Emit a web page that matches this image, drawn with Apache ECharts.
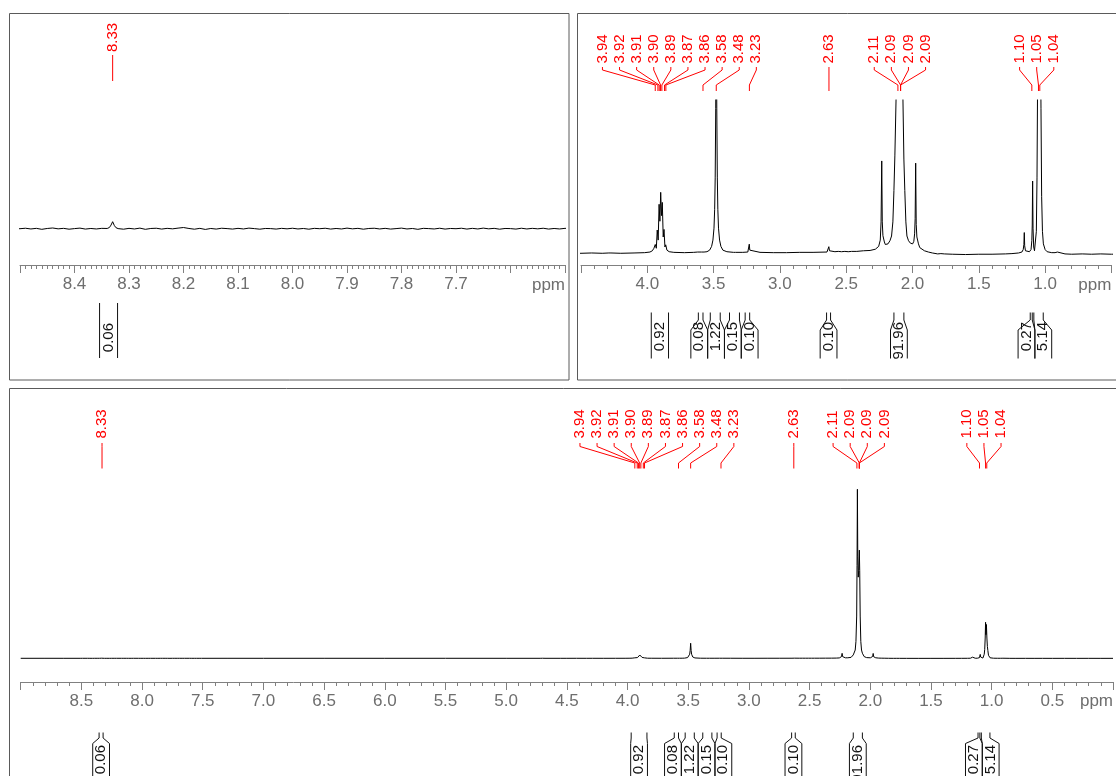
<!DOCTYPE html>
<html>
<head>
<meta charset="utf-8">
<title>1H NMR</title>
<script src="https://cdn.jsdelivr.net/npm/echarts@6/dist/echarts.min.js"></script>
<style>
  html, body { margin: 0; padding: 0; background: #ffffff; }
  #chart { width: 1116px; height: 776px; }
</style>
</head>
<body>
<div id="chart"></div>
<script>
// ---- spectrum: [chemical shift (ppm), intensity (main resonance = 100)] ----
const edgeTrace = [[9.00, 0.000], [8.80, 0.002], [8.65, -0.002], [8.51, 0.000]];

const aromaticTrace = [
  [8.500, 0.000], [8.490, 0.008], [8.480, -0.004], [8.470, 0.006], [8.460, -0.010], [8.450, 0.004],
  [8.440, 0.012], [8.430, -0.002], [8.420, 0.006], [8.410, -0.008], [8.400, 0.002], [8.390, 0.010],
  [8.380, -0.006], [8.370, 0.004], [8.360, -0.004], [8.350, 0.006], [8.340, 0.004], [8.336, 0.020],
  [8.333, 0.060], [8.330, 0.117], [8.327, 0.055], [8.324, 0.018], [8.320, 0.002], [8.310, -0.008],
  [8.300, 0.006], [8.290, -0.004], [8.280, 0.010], [8.270, -0.010], [8.260, 0.004], [8.250, 0.008],
  [8.240, -0.006], [8.230, 0.006], [8.220, -0.002], [8.210, 0.010], [8.200, 0.020], [8.190, 0.004],
  [8.180, -0.008], [8.170, 0.006], [8.160, -0.012], [8.150, 0.004], [8.140, -0.006], [8.130, 0.008],
  [8.120, 0.002], [8.110, -0.006], [8.100, 0.006], [8.090, -0.004], [8.080, 0.010], [8.070, 0.002],
  [8.060, -0.008], [8.050, 0.004], [8.040, 0.002], [8.030, -0.006], [8.020, 0.006], [8.010, -0.002],
  [8.000, 0.008], [7.990, -0.004], [7.980, 0.004], [7.970, -0.008], [7.960, 0.006], [7.950, 0.000],
  [7.940, 0.008], [7.930, -0.006], [7.920, 0.004], [7.910, -0.004], [7.900, 0.010], [7.890, -0.002],
  [7.880, 0.006], [7.870, -0.008], [7.860, 0.004], [7.850, 0.008], [7.840, -0.004], [7.830, 0.006],
  [7.820, -0.006], [7.810, 0.002], [7.800, 0.010], [7.790, -0.004], [7.780, 0.004], [7.770, -0.010],
  [7.760, 0.006], [7.750, 0.002], [7.740, -0.004], [7.730, 0.008], [7.720, -0.006], [7.710, 0.004],
  [7.700, 0.000], [7.690, 0.008], [7.680, -0.006], [7.670, 0.006], [7.660, -0.004], [7.650, 0.010],
  [7.640, -0.002], [7.630, 0.006], [7.620, -0.008], [7.610, 0.004], [7.600, 0.002], [7.590, -0.006],
  [7.580, 0.008], [7.570, -0.004], [7.560, 0.006], [7.550, -0.002], [7.540, 0.008], [7.530, -0.006],
  [7.520, 0.004], [7.510, -0.004], [7.500, 0.006]
];

const midTrace = [
  [7.30, 0.002], [7.00, 0.000], [6.50, 0.002], [6.00, 0.000], [5.50, 0.002], [5.00, 0.000],
  [4.72, 0.000], [4.70, 0.030], [4.68, 0.000], [4.55, 0.000]
];

const aliphaticTrace = [
  [4.50, 0.00], [4.42, 0.01], [4.34, 0.00], [4.29, 0.01], [4.282, 0.07], [4.274, 0.01], [4.20, 0.00],
  [4.10, 0.01], [4.02, 0.02], [3.98, 0.04], [3.962, 0.08], [3.950, 0.16],
  [3.940, 0.28], [3.932, 0.16], [3.925, 0.74], [3.918, 0.42], [3.911, 1.56], [3.905, 1.02],
  [3.899, 1.94], [3.893, 1.20], [3.887, 1.62], [3.880, 0.52], [3.874, 0.76], [3.867, 0.20],
  [3.861, 0.27], [3.852, 0.10], [3.835, 0.05], [3.80, 0.03], [3.72, 0.02], [3.65, 0.03],
  [3.62, 0.04], [3.615, 0.09], [3.608, 0.04], [3.590, 0.04], [3.578, 0.10], [3.572, 0.04], [3.55, 0.05],
  [3.53, 0.10], [3.515, 0.22], [3.505, 0.42], [3.497, 0.80], [3.492, 1.40], [3.488, 2.40],
  [3.484, 4.60], [3.480, 8.90], [3.476, 4.60], [3.472, 2.40], [3.468, 1.40], [3.463, 0.80],
  [3.455, 0.42], [3.445, 0.22], [3.43, 0.10], [3.40, 0.05], [3.35, 0.03], [3.334, 0.03],
  [3.330, 0.08], [3.326, 0.03], [3.28, 0.03], [3.242, 0.04], [3.235, 0.10], [3.231, 0.29],
  [3.227, 0.10], [3.220, 0.04], [3.15, 0.03], [3.05, 0.02], [2.95, 0.02], [2.85, 0.03], [2.75, 0.03],
  [2.645, 0.04], [2.636, 0.08], [2.631, 0.21], [2.626, 0.08], [2.617, 0.05], [2.585, 0.05],
  [2.56, 0.06], [2.535, 0.05], [2.51, 0.06], [2.485, 0.05], [2.46, 0.06], [2.42, 0.06], [2.37, 0.08],
  [2.32, 0.09], [2.28, 0.13], [2.255, 0.22], [2.243, 0.42], [2.237, 1.00], [2.232, 2.94],
  [2.228, 1.00], [2.223, 0.56], [2.218, 0.53], [2.212, 0.36], [2.205, 0.28], [2.198, 0.26],
  [2.185, 0.30], [2.170, 0.40], [2.158, 0.55], [2.148, 1.00], [2.140, 2.00], [2.133, 3.10],
  [2.124, 4.90], [2.118, 10.0], [2.112, 25.0], [2.109, 55.0], [2.106, 100.0], [2.103, 60.0],
  [2.099, 48.0], [2.095, 52.0], [2.090, 64.0], [2.087, 52.0], [2.083, 25.0], [2.078, 10.0],
  [2.072, 4.90], [2.065, 3.00], [2.058, 2.00], [2.050, 1.00], [2.042, 0.55], [2.030, 0.40],
  [2.015, 0.32], [1.999, 0.30], [1.990, 0.38], [1.984, 0.62], [1.980, 1.10], [1.976, 2.87],
  [1.972, 0.92], [1.967, 0.52], [1.962, 0.48], [1.955, 0.30], [1.945, 0.18], [1.930, 0.12],
  [1.910, 0.08], [1.880, 0.04], [1.850, 0.01], [1.810, -0.02], [1.796, 0.03], [1.786, -0.01],
  [1.76, -0.02], [1.70, -0.03], [1.60, -0.04], [1.50, -0.03], [1.40, -0.03], [1.30, -0.02],
  [1.25, -0.01], [1.20, 0.01], [1.175, 0.04], [1.165, 0.12], [1.160, 0.28], [1.157, 0.66],
  [1.154, 0.24], [1.148, 0.08], [1.135, 0.04], [1.118, 0.05], [1.106, 0.12], [1.100, 0.40],
  [1.097, 0.90], [1.094, 2.30], [1.091, 0.80], [1.086, 0.20], [1.080, 0.08], [1.072, 0.14],
  [1.066, 0.70], [1.061, 2.40], [1.057, 5.20], [1.053, 12.0], [1.050, 21.3], [1.047, 14.0],
  [1.043, 20.0], [1.039, 12.0], [1.035, 7.00], [1.031, 4.60], [1.026, 1.80], [1.020, 0.70],
  [1.013, 0.30], [1.000, 0.12], [0.985, 0.05], [0.95, 0.02], [0.925, 0.02], [0.916, 0.05],
  [0.912, 0.08], [0.907, 0.04], [0.895, 0.00], [0.85, -0.02], [0.80, -0.03], [0.72, -0.02],
  [0.65, -0.03], [0.58, -0.02], [0.50, -0.03]
];

const highFieldTrace = [[0.40, -0.02], [0.30, -0.03], [0.20, -0.02], [0.10, -0.03], [0.00, -0.02]];

// ---- peak picking (ppm, as printed) ----
const aromaticPeakLabels = ['8.33'];
const aliphaticPeakLabels = [
  '3.94', '3.92', '3.91', '3.90', '3.89', '3.87', '3.86', '3.58', '3.48', '3.23',
  '2.63', '2.11', '2.09', '2.09', '2.09', '1.10', '1.05', '1.04'
];

// ---- integration regions (ppm) and normalised areas ----
const integralFrom   = [8.354, 3.970, 3.615, 3.525, 3.380, 3.262, 2.648, 2.140, 1.112, 1.085];
const integralTo     = [8.321, 3.840, 3.580, 3.450, 3.305, 3.228, 2.618, 2.065, 1.097, 1.014];
const integralValues = ['0.06', '0.92', '0.08', '1.22', '0.15', '0.10', '0.10', '91.96', '0.27', '5.14'];

// ---- axis tick labels ----
const aromaticTickLabels = ['8.4', '8.3', '8.2', '8.1', '8.0', '7.9', '7.8', '7.7'];
const aliphaticTickLabels = ['4.0', '3.5', '3.0', '2.5', '2.0', '1.5', '1.0'];
const overviewTickLabels = ['8.5', '8.0', '7.5', '7.0', '6.5', '6.0', '5.5', '5.0', '4.5',
  '4.0', '3.5', '3.0', '2.5', '2.0', '1.5', '1.0', '0.5'];

// ---------------------------------------------------------------------------
const spectrum = edgeTrace.concat(aromaticTrace, midTrace, aliphaticTrace, highFieldTrace);

const FONT = '"Liberation Sans", Arial, Helvetica, sans-serif';
const RED = '#ff0000';
const AXIS_GREY = '#808080';
const LABEL_GREY = '#6e6e6e';
const LABEL_STEP = 17.1;   // spacing of the multiplet labels
const BOX_MIN = 16.8;      // minimum width of an integral label box

const panels = [
  {
    xMin: 7.5, xMax: 8.5, interval: 0.1, minorSplit: 10,
    grid: { left: 20, top: 100, width: 545, height: 158 }, yMin: -0.488, yMax: 2.145,
    tickLabels: aromaticTickLabels, peakLabels: aromaticPeakLabels,
    peakGeom: { textBase: 52, y0: 55, y1: 58, y2: 76, y3: 81 },
    intGeom: { top: 303, b1: 310, b2: 318, bottom: 358, textTop: 323 },
    ppmY: 285
  },
  {
    xMin: 0.5, xMax: 4.5, interval: 0.5, minorSplit: 5,
    grid: { left: 581, top: 100, width: 530.4, height: 158 }, yMin: -0.15, yMax: 4.88,
    tickLabels: aliphaticTickLabels, peakLabels: aliphaticPeakLabels,
    peakGeom: { textBase: 63.5, y0: 67, y1: 70, y2: 85, y3: 91 },
    intGeom: { top: 312.5, b1: 320, b2: 330, bottom: 358.5, textTop: 322 },
    ppmY: 285
  },
  {
    xMin: 0, xMax: 9, interval: 0.5, minorSplit: 5,
    grid: { left: 20.7, top: 470, width: 1095.3, height: 205 }, yMin: -9.88, yMax: 111.4,
    tickLabels: overviewTickLabels, peakLabels: aromaticPeakLabels.concat(aliphaticPeakLabels),
    peakGeom: { textBase: 438.5, y0: 443, y1: 446.5, y2: 463, y3: 468.5 },
    intGeom: { top: 732.5, b1: 738, b2: 743.5, bottom: 800, textTop: 745 },
    ppmY: 701.5
  }
];

// Spread overlapping labels: items {c, w} sorted by c; returns the centre of each item.
function spreadRow(items) {
  let groups = items.map((it, i) => ({ members: [i], sumC: it.c, totalW: it.w }));
  const leftOf = g => g.sumC / g.members.length - g.totalW / 2;
  let changed = true;
  while (changed) {
    changed = false;
    for (let i = 0; i < groups.length - 1; i++) {
      const a = groups[i], b = groups[i + 1];
      if (leftOf(a) + a.totalW > leftOf(b) + 0.01) {
        groups.splice(i, 2, {
          members: a.members.concat(b.members),
          sumC: a.sumC + b.sumC,
          totalW: a.totalW + b.totalW
        });
        changed = true;
        break;
      }
    }
  }
  const centres = new Array(items.length);
  groups.forEach(g => {
    let x = leftOf(g);
    g.members.forEach(m => { centres[m] = x + items[m].w / 2; x += items[m].w; });
  });
  return centres;
}

function annotationRenderer(panel) {
  return function (params, api) {
    const xAt = v => api.coord([v, 0])[0];
    const inRange = v => v >= panel.xMin && v <= panel.xMax;
    const children = [];

    // peak labels with connector lines
    const g = panel.peakGeom;
    const peaks = panel.peakLabels
      .filter(t => inRange(parseFloat(t)))
      .map(t => ({ text: t, px: xAt(parseFloat(t)) }))
      .sort((a, b) => a.px - b.px);
    const lx = spreadRow(peaks.map(p => ({ c: p.px, w: LABEL_STEP })));
    peaks.forEach((p, i) => {
      children.push({
        type: 'polyline',
        shape: { points: [[lx[i], g.y0], [lx[i], g.y1], [p.px, g.y2], [p.px, g.y3]] },
        style: { stroke: RED, lineWidth: 1, fill: null }
      });
      children.push({
        type: 'text', x: lx[i], y: g.textBase, rotation: Math.PI / 2,
        style: { text: p.text, fill: RED, font: '15px ' + FONT, align: 'left', verticalAlign: 'middle' }
      });
    });

    // integral brackets
    const ig = panel.intGeom;
    const ints = integralValues
      .map((v, i) => ({ text: v, x1: xAt(integralFrom[i]), x2: xAt(integralTo[i]),
                        mid: (integralFrom[i] + integralTo[i]) / 2 }))
      .filter(it => inRange(it.mid))
      .sort((a, b) => a.x1 - b.x1);
    const bc = spreadRow(ints.map(it => ({ c: (it.x1 + it.x2) / 2, w: Math.max(BOX_MIN, it.x2 - it.x1) })));
    ints.forEach((it, i) => {
      const w = Math.max(BOX_MIN, it.x2 - it.x1);
      const bl = bc[i] - w / 2, br = bc[i] + w / 2;
      children.push({
        type: 'polyline',
        shape: { points: [[it.x1, ig.top], [it.x1, ig.b1], [bl, ig.b2], [bl, ig.bottom]] },
        style: { stroke: '#111', lineWidth: 1, fill: null }
      });
      children.push({
        type: 'polyline',
        shape: { points: [[it.x2, ig.top], [it.x2, ig.b1], [br, ig.b2], [br, ig.bottom]] },
        style: { stroke: '#111', lineWidth: 1, fill: null }
      });
      children.push({
        type: 'text', x: bc[i], y: ig.textTop, rotation: Math.PI / 2,
        style: { text: it.text, fill: '#111', font: '15px ' + FONT, align: 'right', verticalAlign: 'middle' }
      });
    });

    // unit label at the high-field end of the axis
    children.push({
      type: 'text', x: xAt(panel.xMin), y: panel.ppmY,
      style: { text: 'ppm', fill: LABEL_GREY, font: '17px ' + FONT, align: 'right', verticalAlign: 'middle' }
    });

    return { type: 'group', children: children };
  };
}

const option = {
  animation: false,
  backgroundColor: '#ffffff',
  grid: panels.map(p => Object.assign({ containLabel: false }, p.grid)),
  xAxis: panels.map((p, i) => ({
    type: 'value', gridIndex: i, inverse: true,
    min: p.xMin, max: p.xMax, interval: p.interval,
    offset: 7,
    axisLine: { show: true, onZero: false, lineStyle: { color: AXIS_GREY, width: 1 } },
    axisTick: { show: true, length: 8, lineStyle: { color: AXIS_GREY } },
    minorTick: { show: true, splitNumber: p.minorSplit, length: 4, lineStyle: { color: AXIS_GREY } },
    splitLine: { show: false },
    axisLabel: {
      show: true, interval: 0, margin: 11, color: LABEL_GREY, fontSize: 17, fontFamily: FONT,
      showMinLabel: true, showMaxLabel: true,
      formatter: v => (p.tickLabels.indexOf(v.toFixed(1)) >= 0 ? v.toFixed(1) : '')
    }
  })),
  yAxis: panels.map((p, i) => ({
    type: 'value', gridIndex: i, min: p.yMin, max: p.yMax, show: false, splitLine: { show: false }
  })),
  graphic: [
    { type: 'rect', shape: { x: 9.5, y: 13.5, width: 559.5, height: 366.5 },
      style: { fill: 'none', stroke: '#5a5a5a', lineWidth: 1 }, silent: true },
    { type: 'rect', shape: { x: 577.5, y: 13.5, width: 560, height: 366.5 },
      style: { fill: 'none', stroke: '#5a5a5a', lineWidth: 1 }, silent: true },
    { type: 'rect', shape: { x: 9.5, y: 388.5, width: 1120, height: 420 },
      style: { fill: 'none', stroke: '#5a5a5a', lineWidth: 1 }, silent: true }
  ],
  series: panels.map((p, i) => ({
    type: 'line', xAxisIndex: i, yAxisIndex: i, data: spectrum,
    showSymbol: false, symbol: 'none', clip: true, silent: true,
    lineStyle: { color: '#000000', width: 1 }
  })).concat(panels.map((p, i) => ({
    type: 'custom', xAxisIndex: i, yAxisIndex: i, silent: true, clip: false,
    data: [[(p.xMin + p.xMax) / 2, 0]],
    renderItem: annotationRenderer(p)
  })))
};

const chart = echarts.init(document.getElementById('chart'), null, { renderer: 'canvas' });
chart.setOption(option);
</script>
</body>
</html>
